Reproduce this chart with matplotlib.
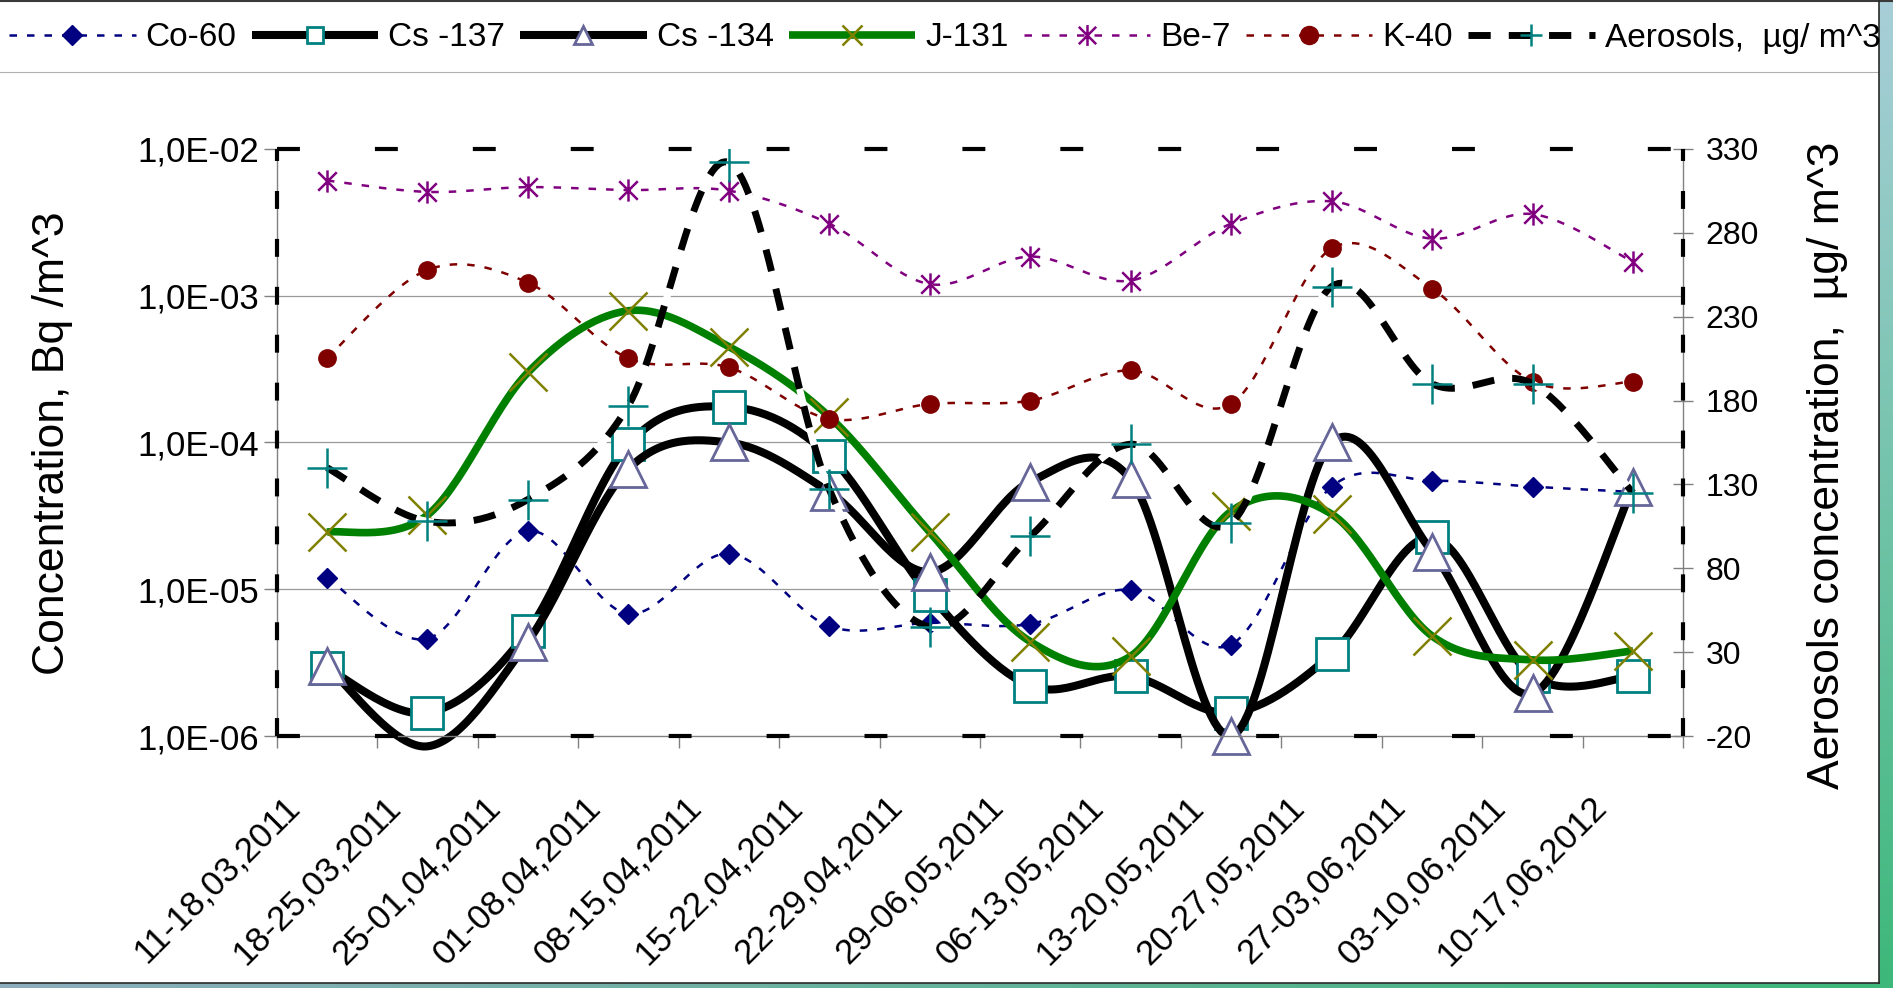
import numpy as np
import matplotlib
matplotlib.use("Agg")
import matplotlib.pyplot as plt
from matplotlib.lines import Line2D
from matplotlib.path import Path
from matplotlib.transforms import ScaledTranslation

plt.rcParams['font.family'] = ['Liberation Sans', 'DejaVu Sans']

# ---- data -------------------------------------------------------------
weeks = ["11-18,03,2011", "18-25,03,2011", "25-01,04,2011", "01-08,04,2011",
         "08-15,04,2011", "15-22,04,2011", "22-29,04,2011", "29-06,05,2011",
         "06-13,05,2011", "13-20,05,2011", "20-27,05,2011", "27-03,06,2011",
         "03-10,06,2011", "10-17,06,2012"]

co60 = [1.2e-5, 4.6e-6, 2.5e-5, 6.8e-6, 1.75e-5, 5.6e-6, 5.9e-6,
        5.8e-6, 9.9e-6, 4.2e-6, 5.0e-5, 5.5e-5, 5.0e-5, 4.6e-5]
cs137 = [2.9e-6, 1.44e-6, 5.2e-6, 9.7e-5, 1.75e-4, 8.1e-5, 9.1e-6,
         2.2e-6, 2.55e-6, 1.44e-6, 3.6e-6, 2.26e-5, 2.55e-6, 2.55e-6]
cs134 = [3.0e-6, 0.85e-6, 4.4e-6, 6.6e-5, 1.0e-4, 4.6e-5, 1.31e-5,
         5.4e-5, 5.6e-5, 1.0e-6, 1.0e-4, 1.8e-5, 1.95e-6, 5.0e-5]
j131 = [2.45e-5, 3.2e-5, 3.0e-4, 7.9e-4, 4.5e-4, 1.5e-4, 2.45e-5,
        4.4e-6, 3.5e-6, 3.4e-5, 3.25e-5, 4.8e-6, 3.3e-6, 3.8e-6]
be7 = [6.1e-3, 5.1e-3, 5.5e-3, 5.25e-3, 5.2e-3, 3.1e-3, 1.2e-3,
       1.85e-3, 1.27e-3, 3.1e-3, 4.4e-3, 2.45e-3, 3.6e-3, 1.7e-3]
k40 = [3.75e-4, 1.5e-3, 1.23e-3, 3.75e-4, 3.25e-4, 1.45e-4, 1.83e-4,
       1.93e-4, 3.1e-4, 1.83e-4, 2.1e-3, 1.12e-3, 2.6e-4, 2.6e-4]
aerosols = [140, 108, 121, 177, 322, 127, 45, 99, 154, 107, 248, 190, 190, 125]

left_ticks = [1e-6, 1e-5, 1e-4, 1e-3, 1e-2]
left_tick_labels = ["1,0E-06", "1,0E-05", "1,0E-04", "1,0E-03", "1,0E-02"]
right_ticks = [-20, 30, 80, 130, 180, 230, 280, 330]
right_tick_labels = ["-20", "30", "80", "130", "180", "230", "280", "330"]

series_names = ["Co-60", "Cs -137", "Cs -134", "J-131", "Be-7", "K-40",
                "Aerosols,  µg/ m^3"]


# ---- helpers ----------------------------------------------------------
def smooth(xv, yv, n=30):
    """Bezier smoothing through every point (Catmull-Rom style tangents)."""
    x = np.asarray(xv, float)
    y = np.asarray(yv, float)
    xp = np.concatenate([[x[0]], x, [x[-1]]])
    yp = np.concatenate([[y[0]], y, [y[-1]]])
    t = np.linspace(0, 1, n + 1)[1:]
    ox, oy = [x[0]], [y[0]]
    for i in range(len(x) - 1):
        p0 = np.array([x[i], y[i]])
        p3 = np.array([x[i + 1], y[i + 1]])
        p1 = p0 + np.array([xp[i + 2] - xp[i], yp[i + 2] - yp[i]]) / 6
        p2 = p3 - np.array([xp[i + 3] - xp[i + 1], yp[i + 3] - yp[i + 1]]) / 6
        b = ((1 - t) ** 3)[:, None] * p0 + (3 * (1 - t) ** 2 * t)[:, None] * p1 \
            + (3 * (1 - t) * t ** 2)[:, None] * p2 + (t ** 3)[:, None] * p3
        ox.extend(b[:, 0])
        oy.extend(b[:, 1])
    return np.array(ox), np.array(oy)


asterisk = Path([(-0.5, -0.5), (0.5, 0.5), (-0.5, 0.5), (0.5, -0.5), (0, -0.6), (0, 0.6)],
                [Path.MOVETO, Path.LINETO, Path.MOVETO, Path.LINETO, Path.MOVETO, Path.LINETO])

W, H = 1893, 988
fig = plt.figure(figsize=(W / 100, H / 100), dpi=100)
fig.patch.set_facecolor("white")

x0, x1 = 276.7, 1683.3
yt, yb = 149.0, 736.0
ax = fig.add_axes([x0 / W, 1 - yb / H, (x1 - x0) / W, (yb - yt) / H])
ax2 = ax.twinx()

idx = np.arange(len(weeks))
ymin, ymax = 1e-6, 1e-2
ax.set_yscale("log")
ax.set_ylim(ymin, ymax)
ax.set_xlim(-0.5, len(weeks) - 0.5)
ax2.set_ylim(-20, 330)

# grid
for v in left_ticks[1:-1]:
    ax.axhline(v, color="#9a9a9a", lw=0.9, zorder=0.5)

styles = [
    dict(data=co60, color="#000080", lw=1.8, ls=(0, (3, 4)), marker="D", ms=10.5,
         mfc="#000080", mec="#000080", mew=1.0, lms=10),
    dict(data=cs137, color="black", lw=5.8, ls="-", marker="s", ms=23,
         mfc="white", mec="#008080", mew=2.0, lms=11),
    dict(data=cs134, color="black", lw=5.8, ls="-", marker="^", ms=26,
         mfc="white", mec="#666699", mew=2.0, lms=13),
    dict(data=j131, color="#008000", lw=5.5, ls="-", marker="x", ms=27,
         mfc="none", mec="#808000", mew=1.8, lms=15),
    dict(data=be7, color="#800080", lw=1.8, ls=(0, (3, 4)), marker=asterisk, ms=16,
         mfc="none", mec="#800080", mew=1.8, lms=15),
    dict(data=k40, color="#800000", lw=1.8, ls=(0, (3, 4)), marker="o", ms=12.5,
         mfc="#800000", mec="#800000", mew=1.0, lms=13),
]

handles = []
for k, st in enumerate(styles):
    vals = np.asarray(st["data"], float)
    sx, sy = smooth(idx, np.log10(vals))
    z = 2 + 0.1 * k
    ax.plot(sx, 10 ** sy, color=st["color"], lw=st["lw"], ls=st["ls"],
            solid_capstyle="butt", dash_capstyle="butt", zorder=z, clip_on=False)
    shown = vals >= ymin * 0.999
    ax.plot(idx[shown], vals[shown], ls="none", marker=st["marker"], ms=st["ms"],
            mfc=st["mfc"], mec=st["mec"], mew=st["mew"], zorder=z + 0.05, clip_on=False)
    handles.append(Line2D([], [], color=st["color"], lw=st["lw"], ls=st["ls"],
                          marker=st["marker"], ms=st["lms"], mfc=st["mfc"],
                          mec=st["mec"], mew=st["mew"], solid_capstyle="butt"))

# aerosols on the secondary axis
ax_sx, ax_sy = smooth(idx, aerosols)
ax2.plot(ax_sx, ax_sy, color="black", lw=5.0, ls=(0, (3.2, 2.6)), gapcolor="white",
         dash_capstyle="butt", zorder=3)
ax2.plot(idx, aerosols, ls="none", marker="+", ms=29, mec="#008080", mew=1.8, zorder=3.1)
handles.append(Line2D([], [], color="black", lw=5.0, ls=(0, (3.2, 2.6)), gapcolor="white",
                      marker="+", ms=16, mec="#008080", mew=1.8))

# ---- axes styling -------------------------------------------------------
axis_gray = "#808080"
for a in (ax, ax2):
    a.patch.set_visible(False)
    for s in a.spines.values():
        s.set_visible(False)
ax.spines["left"].set_visible(True)
ax.spines["bottom"].set_visible(True)
ax2.spines["right"].set_visible(True)
for s in (ax.spines["left"], ax.spines["bottom"], ax2.spines["right"]):
    s.set_color(axis_gray)
    s.set_linewidth(1.0)

ax.yaxis.set_major_locator(matplotlib.ticker.FixedLocator(left_ticks))
ax.yaxis.set_major_formatter(matplotlib.ticker.FixedFormatter(left_tick_labels))
ax.yaxis.set_minor_locator(matplotlib.ticker.NullLocator())
ax.tick_params(axis="y", which="major", direction="out", length=9.5, width=1.0,
               color=axis_gray, labelsize=25, pad=3)

ax.set_xticks(idx)
ax.set_xticklabels(weeks)
ax.set_xticks(np.arange(-0.5, len(weeks), 1), minor=True)
ax.tick_params(axis="x", which="major", length=0, labelsize=25, pad=39)
ax.tick_params(axis="x", which="minor", direction="out", length=8.6, width=1.0,
               color=axis_gray)
shift = ScaledTranslation(-0.44, 0, fig.dpi_scale_trans)
for lab in ax.get_xticklabels():
    lab.set_rotation(45)
    lab.set_ha("right")
    lab.set_va("top")
    lab.set_rotation_mode("anchor")
    lab.set_transform(lab.get_transform() + shift)

ax2.set_yticks(right_ticks)
ax2.set_yticklabels(right_tick_labels)
ax2.tick_params(axis="y", direction="inout", length=14, width=1.0, color=axis_gray,
                labelsize=23, pad=9)

# dashed plot-area border
bk = dict(color="black", lw=3.0, dash_capstyle="butt", transform=ax2.transAxes,
          clip_on=False, zorder=6)
ax2.add_line(Line2D([0, 1], [1, 1], ls=(0, (5.5, 18)), **bk))
ax2.add_line(Line2D([0, 1], [0, 0], ls=(0, (5.5, 18)), **bk))
ax2.add_line(Line2D([0, 0], [0, 1], ls=(0, (4.3, 7.2)), **bk))
ax2.add_line(Line2D([1, 1], [0, 1], ls=(0, (4.3, 7.2)), **bk))

# axis titles
fig.text(53 / W, 1 - 443 / H, "Concentration, Bq /m^3", rotation=90,
         ha="center", va="center", fontsize=32)
fig.text(1828 / W, 1 - 465 / H, "Aerosols concentration,  µg/ m^3", rotation=90,
         ha="center", va="center", fontsize=32)

# legend across the top
fig.legend(handles, series_names, loc="center left", bbox_to_anchor=(9 / W, 1 - 38 / H),
           ncol=7, frameon=False, fontsize=24, handlelength=3.8, handletextpad=0.3,
           columnspacing=0.45, borderpad=0, borderaxespad=0)

# ---- frame around the picture ------------------------------------------
fig.add_artist(Line2D([0, 1], [1 - 1 / H, 1 - 1 / H], transform=fig.transFigure,
                      color="#3a3a3a", lw=1.5))
fig.add_artist(Line2D([0, 1878 / W], [1 - 72 / H, 1 - 72 / H], transform=fig.transFigure,
                      color="#b0b0b0", lw=0.8))

grad_r = fig.add_axes([1879 / W, 0, 1 - 1879 / W, 1])
gv = np.linspace(0, 1, 256)[:, None]
c_top = np.array([0.66, 0.81, 0.85])
c_bot = np.array([0.24, 0.72, 0.48])
img_r = c_top[None, None, :] * (1 - gv[:, :, None]) + c_bot[None, None, :] * gv[:, :, None]
grad_r.imshow(img_r, aspect="auto", extent=[0, 1, 0, 1], origin="upper")
grad_r.axis("off")

grad_b = fig.add_axes([0, 0, 1879 / W, 5 / H])
gh = np.linspace(0, 1, 256)[None, :]
c_left = np.array([0.55, 0.68, 0.74])
img_b = c_left[None, None, :] * (1 - gh[:, :, None]) + c_bot[None, None, :] * gh[:, :, None]
grad_b.imshow(img_b, aspect="auto", extent=[0, 1, 0, 1])
grad_b.axis("off")

fig.add_artist(Line2D([1878.5 / W, 1878.5 / W], [5 / H, 1], transform=fig.transFigure,
                      color="#2a2a2a", lw=1.2))
fig.add_artist(Line2D([0, 1878.5 / W], [5 / H, 5 / H], transform=fig.transFigure,
                      color="#2a2a2a", lw=1.2))

fig.savefig("out.png", dpi=100, facecolor="white")
